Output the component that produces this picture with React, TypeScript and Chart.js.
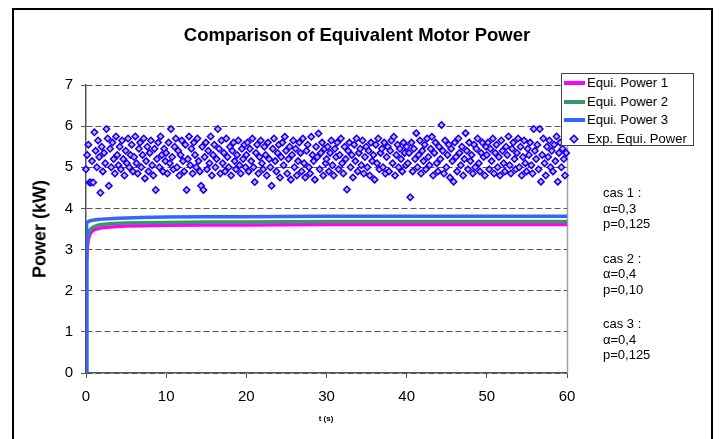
import React, { useEffect, useRef } from "react";
import { Chart, registerables } from "chart.js";

Chart.register(...registerables);

const FONT = '"Liberation Sans", Arial, sans-serif';

// ---- data ----
const titleText = "Comparison of Equivalent Motor Power";
const yTitle = "Power (kW)";
const xTitle = "t (s)";

const lineTimes = [0, 0.05, 0.1, 0.2, 0.3, 0.5, 0.75, 1, 1.5, 2, 3, 4, 5, 7, 10, 15, 20, 30, 40, 50, 60];
const power1 = [0, 1.5, 2.7, 3.1, 3.25, 3.38, 3.44, 3.48, 3.51, 3.53, 3.55, 3.56, 3.57, 3.58, 3.59, 3.6, 3.6, 3.61, 3.61, 3.61, 3.61];
const power2 = [0, 2.5, 3.1, 3.3, 3.4, 3.48, 3.53, 3.56, 3.59, 3.61, 3.63, 3.64, 3.645, 3.65, 3.66, 3.67, 3.67, 3.68, 3.68, 3.68, 3.68];
const power3 = [0, 3.62, 3.65, 3.67, 3.68, 3.7, 3.71, 3.72, 3.73, 3.74, 3.75, 3.76, 3.77, 3.78, 3.79, 3.8, 3.8, 3.81, 3.81, 3.81, 3.81];

const expStep = 0.15;
const expSegStarts = [0, 10, 20, 30, 40, 50];
const expSeg0 = [
  4.95, 5.3, 5.55, 4.63, 4.63, 5.15, 4.63, 5.85, 5.4, 5.0,
  5.65, 5.25, 4.38, 5.5, 4.9, 5.35, 5.1, 5.93, 5.7, 4.55,
  5.45, 5.0, 5.6, 5.2, 4.85, 5.75, 5.3, 5.05, 5.5, 4.95,
  5.65, 5.2, 4.8, 5.4, 5.1, 5.7, 5.0, 5.3, 5.55, 4.9,
  5.25, 5.75, 5.1, 4.85, 5.45, 5.6, 5.0, 5.3, 5.7, 4.73,
  5.15, 5.5, 4.9, 5.35, 5.65, 5.05, 4.8, 5.45, 4.45, 5.2,
  5.6, 5.0, 5.75, 5.3, 4.9, 5.45, 5.15,
];
const expSeg1 = [
  5.35, 4.85, 5.6, 5.1, 5.93, 5.25, 4.95, 5.5, 5.7, 5.0,
  5.4, 4.8, 5.3, 5.65, 5.15, 4.9, 5.55, 4.45, 5.2, 5.75,
  5.05, 5.45, 4.85, 5.6, 5.3, 5.0, 5.7, 5.15, 4.9, 4.55,
  5.5, 4.45, 5.25, 5.6, 4.95, 5.4, 5.1, 5.75, 4.8, 5.3,
  5.55, 5.0, 5.2, 5.93, 5.45, 4.85, 5.65, 5.1, 5.35, 4.9,
  5.7, 5.25, 5.0, 5.5, 4.8, 5.4, 5.6, 5.15, 4.95, 5.3,
  5.65, 5.05, 4.85, 5.45, 5.2, 5.55, 5.0,
];
const expSeg2 = [
  5.3, 5.6, 4.9, 5.45, 5.15, 5.7, 5.0, 4.64, 5.35, 5.55,
  4.85, 5.25, 5.65, 5.1, 4.95, 5.5, 5.3, 4.8, 5.6, 5.2,
  5.0, 4.55, 5.45, 5.7, 5.15, 4.9, 5.35, 5.55, 4.75, 5.25,
  5.6, 5.05, 5.74, 5.4, 4.85, 5.2, 5.5, 4.7, 5.3, 5.65,
  5.0, 5.45, 4.8, 5.15, 5.6, 5.35, 4.9, 5.7, 5.1, 4.75,
  5.4, 5.55, 5.0, 4.85, 5.74, 5.3, 5.15, 4.7, 5.5, 5.25,
  5.82, 4.95, 5.35, 5.6, 4.8, 5.45, 5.1,
];
const expSeg3 = [
  5.2, 5.5, 4.9, 5.35, 5.65, 5.05, 4.8, 5.45, 5.25, 5.6,
  4.95, 5.3, 5.7, 5.1, 4.85, 5.5, 5.2, 4.46, 5.4, 5.6,
  5.0, 5.3, 4.75, 5.55, 5.15, 5.7, 4.9, 5.35, 5.45, 5.05,
  5.65, 4.85, 5.25, 5.5, 5.0, 5.4, 4.8, 5.6, 5.15, 5.3,
  4.7, 5.55, 5.1, 5.7, 4.95, 5.35, 5.45, 5.0, 5.6, 4.85,
  5.25, 5.5, 4.9, 5.4, 5.65, 5.1, 5.74, 4.8, 5.3, 5.55,
  5.0, 5.45, 5.2, 4.9, 5.6, 5.35, 5.05,
];
const expSeg4 = [
  5.5, 5.1, 5.35, 4.27, 5.6, 4.9, 5.45, 5.2, 5.83, 5.0,
  5.3, 5.65, 4.85, 5.4, 5.15, 5.55, 4.95, 5.7, 5.25, 5.05,
  5.45, 5.74, 4.8, 5.35, 5.6, 5.1, 4.9, 5.5, 5.2, 6.03,
  5.4, 4.85, 5.65, 5.0, 5.3, 5.55, 4.75, 5.45, 5.15, 4.65,
  5.6, 5.25, 4.9, 5.7, 5.35, 5.05, 5.5, 4.8, 5.2, 5.83,
  5.4, 4.95, 5.6, 5.15, 5.3, 4.85, 5.55, 5.0, 5.45, 5.7,
  5.1, 4.9, 5.35, 5.6, 5.25, 4.8, 5.5,
];
const expSeg5 = [
  5.3, 5.6, 4.95, 5.45, 5.15, 5.7, 4.85, 5.35, 5.55, 5.0,
  5.25, 4.8, 5.65, 5.4, 5.1, 4.9, 5.5, 5.3, 5.75, 5.05,
  4.85, 5.45, 5.6, 5.2, 4.95, 5.35, 5.7, 5.0, 5.5, 4.8,
  5.25, 5.65, 5.1, 4.9, 5.45, 5.3, 5.6, 5.05, 4.85, 5.93,
  5.4, 5.2, 5.55, 4.95, 5.93, 4.65, 5.3, 5.7, 5.1, 4.8,
  5.5, 5.25, 5.65, 5.0, 5.4, 4.9, 5.55, 5.15, 5.75, 4.65,
  5.35, 5.6, 5.0, 5.45, 5.2, 4.8, 5.35,
];
const expSegments = [expSeg0, expSeg1, expSeg2, expSeg3, expSeg4, expSeg5];

const xTickValues = [0, 10, 20, 30, 40, 50, 60];
const yTickValues = [0, 1, 2, 3, 4, 5, 6, 7];

const seriesNames = ["Equi. Power 1", "Equi. Power 2", "Equi. Power 3", "Exp. Equi. Power"];
const seriesColors = ["#FF00FF", "#339966", "#3366FF", "#0000FF"];
const markerFill = "#FF99CC";

const caseNotes = [
  ["cas 1 :", "α=0,3", "p=0,125"],
  ["cas 2 :", "α=0,4", "p=0,10"],
  ["cas 3 :", "α=0,4", "p=0,125"],
];

// ---- component ----
const plotFrame = {
  id: "plotFrame",
  beforeDatasetsDraw(chart: any) {
    const { ctx, chartArea } = chart;
    ctx.save();
    ctx.strokeStyle = "#A0A0A0";
    ctx.lineWidth = 1.5;
    ctx.beginPath();
    ctx.moveTo(chartArea.right + 0.5, chartArea.top);
    ctx.lineTo(chartArea.right + 0.5, chartArea.bottom);
    ctx.stroke();
    ctx.restore();
  },
};

export default function App() {
  const canvasRef = useRef<HTMLCanvasElement | null>(null);

  useEffect(() => {
    const canvas = canvasRef.current;
    if (!canvas) return;
    const lineData = (vals: number[]) => lineTimes.map((t, i) => ({ x: t, y: vals[i] }));
    const expData = expSegments.flatMap((seg, s) =>
      seg.map((v, i) => ({ x: expSegStarts[s] + i * expStep, y: v }))
    );
    const lineDs = (idx: number, vals: number[], order: number) => ({
      label: seriesNames[idx],
      data: lineData(vals),
      showLine: true,
      borderColor: seriesColors[idx],
      backgroundColor: seriesColors[idx],
      borderWidth: 3.5,
      pointRadius: 0,
      tension: 0,
      order,
    });
    const chart = new Chart(canvas, {
      type: "scatter",
      data: {
        datasets: [
          lineDs(0, power1, 3),
          lineDs(1, power2, 2),
          lineDs(2, power3, 1),
          {
            label: seriesNames[3],
            data: expData,
            showLine: false,
            pointStyle: "rectRot",
            pointRadius: 3.2,
            pointBorderWidth: 1.5,
            pointBorderColor: seriesColors[3],
            pointBackgroundColor: markerFill,
            borderColor: seriesColors[3],
            backgroundColor: markerFill,
            clip: false,
            order: 0,
          } as any,
        ],
      },
      options: {
        animation: false,
        responsive: false,
        maintainAspectRatio: false,
        events: [],
        layout: { padding: { left: 20, top: 85, right: 155, bottom: 20 } },
        plugins: {
          legend: { display: false },
          title: { display: false },
          tooltip: { enabled: false },
        },
        scales: {
          x: {
            type: "linear",
            min: 0,
            max: 60,
            afterBuildTicks: (scale: any) => {
              scale.ticks = xTickValues.map((v) => ({ value: v }));
            },
            afterFit: (scale: any) => {
              scale.height = 46;
            },
            ticks: {
              color: "#000",
              font: { family: FONT, size: 15 },
              padding: 10,
              maxRotation: 0,
            },
            grid: {
              drawOnChartArea: false,
              drawTicks: true,
              tickLength: 5,
              tickColor: "#555",
            },
            border: { display: true, color: "#555", width: 1.5 },
          },
          y: {
            type: "linear",
            min: 0,
            max: 7,
            afterBuildTicks: (scale: any) => {
              scale.ticks = yTickValues.map((v) => ({ value: v }));
            },
            afterFit: (scale: any) => {
              scale.width = 66;
            },
            ticks: {
              color: "#000",
              font: { family: FONT, size: 15 },
              padding: 8,
            },
            grid: {
              drawOnChartArea: true,
              drawTicks: true,
              tickLength: 5,
              color: "#555",
              tickColor: "#555",
              lineWidth: 1,
            },
            border: { display: true, color: "#555", width: 1.5, dash: [6, 3] },
          },
        },
      } as any,
      plugins: [plotFrame],
    });
    return () => chart.destroy();
  }, []);

  const rowCenters = [83, 101.5, 120, 138.5];
  const legendLeft = 561;
  const legendTop = 73;

  return (
    <div
      style={{
        position: "fixed",
        left: 0,
        top: 0,
        width: 722,
        height: 439,
        overflow: "hidden",
        background: "#fff",
        fontFamily: FONT,
        color: "#000",
      }}
    >
      <div
        style={{
          position: "absolute",
          left: 12,
          top: 8,
          width: 701,
          height: 520,
          border: "2px solid #000",
          boxSizing: "border-box",
        }}
      />
      <canvas
        ref={canvasRef}
        width={722}
        height={439}
        style={{ position: "absolute", left: 0, top: 0, width: 722, height: 439 }}
      />
      <div
        style={{
          position: "absolute",
          left: 357,
          top: 35,
          transform: "translate(-50%, -50%)",
          fontWeight: "bold",
          fontSize: 18.5,
          whiteSpace: "nowrap",
        }}
      >
        {titleText}
      </div>
      <div
        style={{
          position: "absolute",
          left: 40,
          top: 229,
          transform: "translate(-50%, -50%) rotate(-90deg)",
          fontWeight: "bold",
          fontSize: 18,
          whiteSpace: "nowrap",
        }}
      >
        {yTitle}
      </div>
      <div
        style={{
          position: "absolute",
          left: 326,
          top: 418,
          transform: "translate(-50%, -50%)",
          fontWeight: "bold",
          fontSize: 8,
          whiteSpace: "nowrap",
        }}
      >
        {xTitle}
      </div>
      <div
        style={{
          position: "absolute",
          left: legendLeft,
          top: legendTop,
          width: 133,
          height: 73,
          border: "1px solid #444",
          background: "#fff",
          boxSizing: "border-box",
        }}
      />
      {seriesNames.map((name, i) => (
        <React.Fragment key={name}>
          {i < 3 ? (
            <div
              style={{
                position: "absolute",
                left: 564,
                top: rowCenters[i] - 2,
                width: 21,
                height: 4,
                background: seriesColors[i],
              }}
            />
          ) : (
            <svg
              width={10}
              height={10}
              style={{ position: "absolute", left: 569, top: rowCenters[i] - 5 }}
            >
              <polygon
                points="5,1.2 8.8,5 5,8.8 1.2,5"
                fill={markerFill}
                stroke={seriesColors[3]}
                strokeWidth={1.5}
              />
            </svg>
          )}
          <div
            style={{
              position: "absolute",
              left: 587,
              top: rowCenters[i] - 9,
              height: 18,
              lineHeight: "18px",
              fontSize: 13,
              whiteSpace: "nowrap",
            }}
          >
            {name}
          </div>
        </React.Fragment>
      ))}
      {caseNotes.map((group, g) =>
        group.map((line, r) => (
          <div
            key={`${g}-${r}`}
            style={{
              position: "absolute",
              left: 603,
              top: 193 + g * 65.5 + r * 15.7 - 8,
              height: 16,
              lineHeight: "16px",
              fontSize: 13,
              whiteSpace: "nowrap",
            }}
          >
            {line}
          </div>
        ))
      )}
    </div>
  );
}
